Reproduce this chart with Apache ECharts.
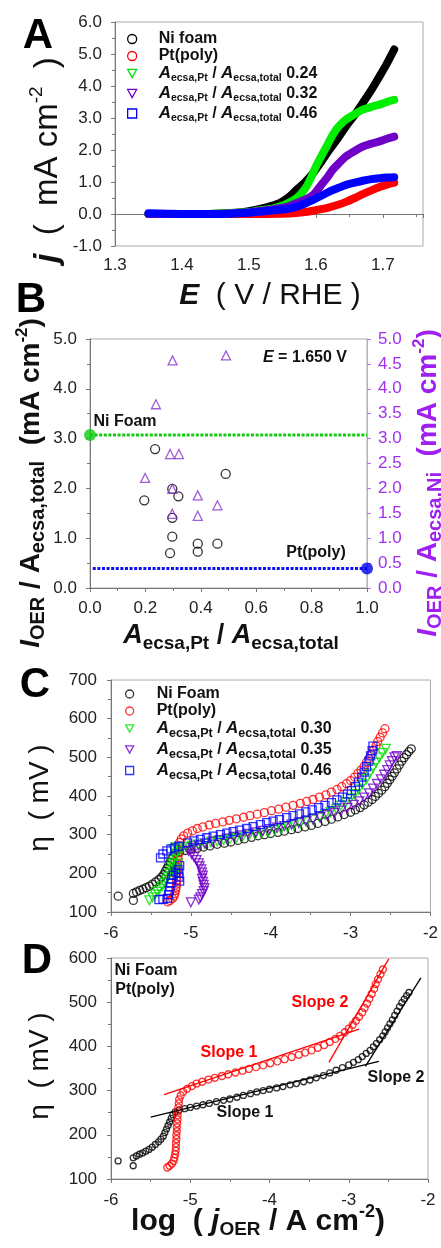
<!DOCTYPE html>
<html>
<head>
<meta charset="utf-8">
<script src="https://cdn.jsdelivr.net/npm/echarts@6/dist/echarts.min.js"></script>
<style>
  html, body { margin: 0; padding: 0; background: #fff; }
  #main { width: 441px; height: 1248px; }
</style>
</head>
<body>
<div id="main"></div>
<script>
// ---- panel A : j vs E (mA cm-2 vs V/RHE)
const aNiFoam = [[1.35,0],[1.4,0],[1.45,0.01],[1.48,0.04],[1.5,0.09],[1.521,0.18],[1.535,0.26],[1.546,0.34],[1.558,0.5],[1.571,0.75],[1.584,1.0],[1.596,1.28],[1.608,1.63],[1.62,2.0],[1.633,2.37],[1.645,2.74],[1.658,3.1],[1.67,3.47],[1.683,3.88],[1.695,4.3],[1.706,4.7],[1.717,5.14]];
const aPtPoly = [[1.35,0],[1.4,0],[1.45,0],[1.5,0],[1.55,0.01],[1.571,0.03],[1.584,0.06],[1.596,0.1],[1.608,0.15],[1.62,0.21],[1.633,0.29],[1.645,0.38],[1.658,0.5],[1.67,0.62],[1.683,0.74],[1.695,0.84],[1.706,0.92],[1.717,0.98]];
const aRatio024 = [[1.35,0],[1.4,0],[1.45,0.01],[1.5,0.06],[1.521,0.13],[1.535,0.17],[1.546,0.23],[1.558,0.33],[1.571,0.49],[1.579,0.66],[1.586,0.86],[1.593,1.15],[1.6,1.48],[1.608,1.8],[1.616,2.11],[1.623,2.39],[1.63,2.63],[1.638,2.82],[1.645,2.95],[1.658,3.12],[1.67,3.26],[1.683,3.35],[1.695,3.42],[1.706,3.5],[1.717,3.57]];
const aRatio032 = [[1.35,0],[1.4,0],[1.45,0],[1.5,0.05],[1.521,0.1],[1.546,0.18],[1.56,0.25],[1.571,0.34],[1.584,0.45],[1.596,0.6],[1.603,0.77],[1.61,0.96],[1.618,1.17],[1.625,1.38],[1.635,1.6],[1.645,1.8],[1.658,1.97],[1.67,2.11],[1.683,2.2],[1.695,2.27],[1.706,2.35],[1.717,2.42]];
const aRatio046 = [[1.35,0.02],[1.4,0],[1.45,0],[1.5,0.04],[1.521,0.08],[1.546,0.13],[1.56,0.17],[1.571,0.23],[1.584,0.33],[1.596,0.44],[1.608,0.57],[1.62,0.7],[1.633,0.81],[1.645,0.91],[1.658,0.98],[1.67,1.04],[1.683,1.09],[1.695,1.12],[1.706,1.14],[1.717,1.15]];

// ---- panel B : I_OER at E = 1.650 V vs area ratio
const bPerTotal = [[0.235,2.79],[0.196,1.76],[0.297,1.99],[0.319,1.84],[0.297,1.41],[0.297,1.03],[0.289,0.70],[0.389,0.89],[0.389,0.73],[0.46,0.89],[0.49,2.29]];
const bPerNi = [[0.298,4.57],[0.491,4.67],[0.238,3.69],[0.289,2.69],[0.321,2.69],[0.199,2.21],[0.297,1.99],[0.389,1.86],[0.46,1.66],[0.297,1.49],[0.389,1.45]];
const bNiFoamRef = [[0,3.07],[1,3.07]];
const bPtPolyRef = [[0.01,0.39],[1,0.39]];
const bNiFoamDot = [[0,3.07]];
const bPtPolyDot = [[1,0.39]];

// ---- panels C and D : Tafel data (log j, eta in mV)
const tNiFoam = [[-5.91,141],[-5.72,130],[-5.72,148],[-5.68,152],[-5.64,156],[-5.6,159],[-5.56,163],[-5.52,167],[-5.48,172],[-5.44,178],[-5.4,184],[-5.37,190],[-5.34,197],[-5.32,205],[-5.3,213],[-5.28,221],[-5.26,229],[-5.24,237],[-5.22,245],[-5.19,252],[-5.14,256],[-5.07,259],[-5.0,262],[-4.92,265],[-4.84,268],[-4.76,271],[-4.67,275],[-4.58,278],[-4.5,281],[-4.41,285],[-4.33,289],[-4.24,293],[-4.16,297],[-4.08,300],[-4.0,303],[-3.91,306],[-3.83,309],[-3.74,313],[-3.66,316],[-3.57,320],[-3.49,324],[-3.41,329],[-3.32,334],[-3.24,340],[-3.16,346],[-3.08,352],[-3.0,358],[-2.94,364],[-2.88,370],[-2.83,377],[-2.78,384],[-2.73,391],[-2.69,399],[-2.65,407],[-2.61,415],[-2.57,424],[-2.54,433],[-2.51,442],[-2.48,451],[-2.45,460],[-2.42,470],[-2.39,480],[-2.36,490],[-2.33,499],[-2.3,507],[-2.27,515],[-2.24,522]];
const tPtPoly = [[-5.29,126],[-5.26,130],[-5.23,135],[-5.21,141],[-5.2,148],[-5.19,156],[-5.185,164],[-5.18,172],[-5.18,181],[-5.175,190],[-5.175,199],[-5.17,208],[-5.17,217],[-5.165,226],[-5.16,235],[-5.16,244],[-5.155,253],[-5.15,262],[-5.145,271],[-5.14,280],[-5.12,289],[-5.09,297],[-5.04,304],[-4.98,310],[-4.92,316],[-4.85,320],[-4.77,325],[-4.69,329],[-4.6,333],[-4.52,337],[-4.43,341],[-4.34,345],[-4.26,349],[-4.17,353],[-4.08,357],[-3.99,362],[-3.9,366],[-3.81,371],[-3.72,376],[-3.63,381],[-3.55,386],[-3.47,391],[-3.39,397],[-3.31,403],[-3.24,410],[-3.17,417],[-3.11,424],[-3.05,432],[-3.0,440],[-2.95,449],[-2.91,458],[-2.87,467],[-2.83,477],[-2.8,487],[-2.77,497],[-2.74,508],[-2.71,519],[-2.68,530],[-2.66,541],[-2.63,552],[-2.6,563],[-2.57,574]];
const tRatio030 = [[-5.52,130],[-5.48,138],[-5.45,145],[-5.42,152],[-5.39,160],[-5.36,167],[-5.33,175],[-5.31,183],[-5.29,191],[-5.27,199],[-5.25,208],[-5.24,216],[-5.23,225],[-5.22,234],[-5.2,243],[-5.18,251],[-5.2,195],[-5.18,210],[-5.16,225],[-5.22,262],[-5.19,268],[-5.15,258],[-5.11,264],[-5.06,268],[-4.99,271],[-4.91,274],[-4.83,277],[-4.75,280],[-4.67,283],[-4.59,286],[-4.51,289],[-4.43,292],[-4.35,295],[-4.27,298],[-4.19,301],[-4.11,304],[-4.03,307],[-3.95,311],[-3.87,315],[-3.79,319],[-3.71,324],[-3.63,329],[-3.55,334],[-3.47,339],[-3.39,345],[-3.32,351],[-3.25,358],[-3.18,366],[-3.12,375],[-3.06,384],[-3.0,394],[-2.95,405],[-2.9,417],[-2.85,430],[-2.8,444],[-2.76,458],[-2.72,472],[-2.68,486],[-2.64,499],[-2.6,511],[-2.56,522]];
const tRatio035 = [[-5.0,125],[-4.99,250],[-4.96,242],[-4.93,234],[-4.9,226],[-4.89,218],[-4.87,210],[-4.86,202],[-4.85,194],[-4.86,186],[-4.85,178],[-4.84,170],[-4.83,162],[-4.84,154],[-4.86,146],[-4.88,138],[-4.9,132],[-5.03,258],[-4.98,266],[-4.9,272],[-4.82,277],[-4.73,282],[-4.64,286],[-4.55,290],[-4.46,294],[-4.37,298],[-4.28,302],[-4.19,306],[-4.1,310],[-4.01,314],[-3.92,318],[-3.83,322],[-3.74,326],[-3.65,331],[-3.56,335],[-3.47,340],[-3.38,345],[-3.29,350],[-3.2,356],[-3.12,362],[-3.04,369],[-2.96,377],[-2.89,386],[-2.83,396],[-2.77,407],[-2.72,419],[-2.67,431],[-2.62,443],[-2.58,455],[-2.54,467],[-2.51,479],[-2.48,490],[-2.45,500],[-2.42,503]];
const tRatio046 = [[-5.4,132],[-5.35,133],[-5.29,135],[-5.28,145],[-5.27,155],[-5.26,165],[-5.25,175],[-5.24,185],[-5.22,195],[-5.19,203],[-5.16,210],[-5.14,220],[-5.15,190],[-5.14,180],[-5.15,200],[-5.38,240],[-5.35,250],[-5.3,258],[-5.25,263],[-5.2,266],[-5.15,270],[-5.04,279],[-4.96,284],[-4.88,288],[-4.8,292],[-4.72,296],[-4.63,300],[-4.55,304],[-4.47,308],[-4.39,312],[-4.3,316],[-4.22,321],[-4.13,326],[-4.05,331],[-3.97,335],[-3.89,339],[-3.8,344],[-3.72,349],[-3.64,354],[-3.56,359],[-3.48,364],[-3.4,370],[-3.32,376],[-3.24,383],[-3.17,390],[-3.1,397],[-3.04,405],[-2.99,414],[-2.94,424],[-2.9,436],[-2.86,449],[-2.83,462],[-2.8,476],[-2.77,490],[-2.75,504],[-2.73,517],[-2.72,529]];

// Tafel fit lines in D
const niSlope1 = [[-5.5,240],[-2.62,366]];
const niSlope2 = [[-2.79,355],[-2.09,555]];
const ptSlope1 = [[-5.33,291],[-2.87,439]];
const ptSlope2 = [[-3.25,364],[-2.495,598]];

const FONT = "'Liberation Sans', Arial, sans-serif";
const AX = '#777';
const PURPLE = '#6e00c8';
const TRI_DOWN = 'path://M0,0L10,0L5,9Z';
const TRI_UP = 'path://M5,0L10,9L0,9Z';

const chart = echarts.init(document.getElementById('main'));

// rich token helper (both graphic "fill" and label "color")
function tok(size, o) {
  return Object.assign({ fontSize: size, fontFamily: FONT, fontWeight: 'bold', fill: '#111', color: '#111' }, o || {});
}

function valAxis(o, label) {
  return Object.assign({
    type: 'value',
    axisLine: { show: true, lineStyle: { color: AX } },
    axisTick: { show: true, length: 4, lineStyle: { color: AX } },
    minorTick: { show: true, splitNumber: 2, length: 3, lineStyle: { color: AX } },
    splitLine: { show: false },
    axisLabel: Object.assign({ color: '#222', fontSize: 17, fontFamily: FONT, margin: 12 }, label || {})
  }, o);
}
const fix1 = v => v.toFixed(1);

// legend text builders
function legRich(main, sub, ai) {
  return {
    p: tok(main, { lineHeight: 17 }),
    m: tok(main),
    ai: tok(ai, { fontStyle: 'italic' }),
    sb: tok(sub, { padding: [10, 0, 0, 0] })
  };
}
function ratioLabel(v) {
  return '{ai|A}{sb|ecsa,Pt}{m| / }{ai|A}{sb|ecsa,total}{m| ' + v + '}';
}
const legendLabels = {
  aNi: '{p|Ni foam}', aPt: '{p|Pt(poly)}',
  a24: ratioLabel('0.24'), a32: ratioLabel('0.32'), a46: ratioLabel('0.46'),
  cNi: '{p|Ni Foam}', cPt: '{p|Pt(poly)}',
  c30: ratioLabel('0.30'), c35: ratioLabel('0.35'), c46: ratioLabel('0.46')
};
function legItem(name, icon, color) {
  return { name, icon, itemStyle: { color: 'rgba(0,0,0,0)', borderColor: color, borderWidth: 1.3 } };
}

function openScatter(name, data, symbol, color, size, xi, yi) {
  return {
    name, type: 'scatter', xAxisIndex: xi, yAxisIndex: yi, data, symbol, symbolSize: size,
    itemStyle: { color: 'rgba(0,0,0,0)', borderColor: color, borderWidth: 1.3 },
    emphasis: { disabled: true }
  };
}
function band(name, data, color) {
  return {
    name, type: 'line', xAxisIndex: 0, yAxisIndex: 0, data, symbol: 'none', smooth: 0.3,
    lineStyle: { width: 8, color, cap: 'round', join: 'round' }, itemStyle: { color }
  };
}
function fitLine(name, data, color) {
  return {
    name, type: 'line', xAxisIndex: 3, yAxisIndex: 4, data, symbol: 'none',
    lineStyle: { width: 1.3, color }, z: 3
  };
}

function text(x, y, str, rich, o) {
  return Object.assign({
    type: 'text', x, y, z: 100,
    style: { text: str, rich, fill: '#111', fontFamily: FONT, fontSize: 16, fontWeight: 'bold',
      align: 'center', verticalAlign: 'middle', textAlign: 'center', textVerticalAlign: 'middle' }
  }, o || {});
}
function plain(x, y, str, size, col) {
  return { type: 'text', x, y, z: 100,
    style: { text: str, fontFamily: FONT, fontSize: size, fontWeight: 'bold', fill: col,
      align: 'center', verticalAlign: 'middle' } };
}
const ROT = Math.PI / 2;

// axis titles
const aXTitle = { ei: tok(30, { fontStyle: 'italic' }), r: tok(30, { fontWeight: 'normal' }) };
const aYTitle = { ji: tok(33, { fontStyle: 'italic' }), r: tok(33, { fontWeight: 'normal' }),
  sup: tok(19, { fontWeight: 'normal', padding: [0, 0, 22, 0] }) };
const bXTitle = { ai: tok(27, { fontStyle: 'italic' }), m: tok(27), sub: tok(19, { padding: [16, 0, 0, 0] }) };
function bYTitle(col) {
  return {
    ii: tok(28, { fontStyle: 'italic', fill: col, color: col }), m: tok(28, { fill: col, color: col }),
    sub: tok(20, { padding: [14, 0, 0, 0], fill: col, color: col }),
    sup: tok(17, { padding: [0, 0, 18, 0], fill: col, color: col })
  };
}
const etaTitle = { r: tok(28, { fontWeight: 'normal' }) };
const dXTitle = { m: tok(30), ji: tok(30, { fontStyle: 'italic' }), sub: tok(19, { padding: [16, 0, 0, 0] }),
  sup: tok(18, { padding: [0, 0, 20, 0] }) };
const eRich = { ei: tok(16, { fontStyle: 'italic' }), m: tok(16) };

const option = {
  animation: false,
  backgroundColor: '#fff',
  grid: [
    { left: 115, top: 22, width: 308, height: 224, show: true, borderColor: '#aaa', borderWidth: 1 },
    { left: 90, top: 339, width: 277, height: 249, show: true, borderColor: '#aaa', borderWidth: 1 },
    { left: 111, top: 680, width: 322, height: 232, show: true, borderColor: '#aaa', borderWidth: 1 },
    { left: 111, top: 958, width: 317, height: 221, show: true, borderColor: '#aaa', borderWidth: 1 }
  ],
  xAxis: [
    valAxis({ gridIndex: 0, min: 1.3, max: 1.76, interval: 0.1 }, { formatter: fix1, showMaxLabel: false, margin: 11 }),
    valAxis({ gridIndex: 1, min: 0, max: 1, interval: 0.2 }, { formatter: fix1 }),
    valAxis({ gridIndex: 2, min: -6, max: -2, interval: 1 }, { margin: 13 }),
    valAxis({ gridIndex: 3, min: -6, max: -2, interval: 1 }, { margin: 13 })
  ],
  yAxis: [
    valAxis({ gridIndex: 0, min: -1, max: 6, interval: 1 }, { formatter: fix1, margin: 13 }),
    valAxis({ gridIndex: 1, min: 0, max: 5, interval: 1 }, { formatter: fix1, margin: 13 }),
    valAxis({ gridIndex: 1, position: 'right', min: 0, max: 5, interval: 0.5,
      axisLine: { show: true, lineStyle: { color: '#c9a0ff' } },
      axisTick: { show: true, length: 4, lineStyle: { color: '#b070f0' } },
      minorTick: { show: false } }, { formatter: fix1, color: '#a030f0', margin: 11 }),
    valAxis({ gridIndex: 2, min: 100, max: 700, interval: 100 }, { margin: 14 }),
    valAxis({ gridIndex: 3, min: 100, max: 600, interval: 100 }, { margin: 14 })
  ],
  legend: [
    {
      left: 122, top: 26, orient: 'vertical', itemWidth: 9, itemHeight: 9, itemGap: 1,
      selectedMode: false,
      formatter: n => legendLabels[n],
      textStyle: { padding: [0, 0, 0, 17], rich: legRich(16, 10.5, 17) },
      data: [legItem('aNi', 'circle', '#000'), legItem('aPt', 'circle', '#f00'),
        legItem('a24', TRI_DOWN, '#00dd00'), legItem('a32', TRI_DOWN, PURPLE), legItem('a46', 'rect', '#00f')]
    },
    {
      left: 120, top: 681, orient: 'vertical', itemWidth: 8, itemHeight: 8, itemGap: 1,
      selectedMode: false,
      formatter: n => legendLabels[n],
      textStyle: { padding: [0, 0, 0, 18], rich: legRich(16, 12.5, 17) },
      data: [legItem('cNi', 'circle', '#000'), legItem('cPt', 'circle', '#f00'),
        legItem('c30', TRI_DOWN, '#00dd00'), legItem('c35', TRI_DOWN, PURPLE), legItem('c46', 'rect', '#00f')]
    }
  ],
  series: [
    // A
    band('aNi', aNiFoam, '#000'),
    band('aPt', aPtPoly, '#ff0000'),
    band('a24', aRatio024, '#00ee00'),
    band('a32', aRatio032, PURPLE),
    band('a46', aRatio046, '#0000ff'),
    // B
    { name: 'bNiRef', type: 'line', xAxisIndex: 1, yAxisIndex: 1, data: bNiFoamRef, symbol: 'none',
      lineStyle: { color: '#11cc11', width: 3, type: [3, 1.6] } },
    { name: 'bPtRef', type: 'line', xAxisIndex: 1, yAxisIndex: 1, data: bPtPolyRef, symbol: 'none',
      lineStyle: { color: '#1010ee', width: 3, type: [3, 1.6] } },
    { name: 'bNiDot', type: 'scatter', xAxisIndex: 1, yAxisIndex: 1, data: bNiFoamDot, symbolSize: 12,
      clip: false, itemStyle: { color: '#11cc11' }, z: 4 },
    { name: 'bPtDot', type: 'scatter', xAxisIndex: 1, yAxisIndex: 1, data: bPtPolyDot, symbolSize: 12,
      clip: false, itemStyle: { color: '#0000ee' }, z: 4 },
    openScatter('bTotal', bPerTotal, 'circle', '#000', 9, 1, 1),
    openScatter('bNi', bPerNi, TRI_UP, '#8833cc', 9, 1, 2),
    // C
    openScatter('cNi', tNiFoam, 'circle', '#000', 8, 2, 3),
    openScatter('cPt', tPtPoly, 'circle', '#f00', 8, 2, 3),
    openScatter('c30', tRatio030, TRI_DOWN, '#00dd00', 9, 2, 3),
    openScatter('c35', tRatio035, TRI_DOWN, PURPLE, 9, 2, 3),
    openScatter('c46', tRatio046, 'rect', '#0000ff', 8, 2, 3),
    // D
    openScatter('dNi', tNiFoam, 'circle', '#000', 6, 3, 4),
    openScatter('dPt', tPtPoly, 'circle', '#f00', 7, 3, 4),
    fitLine('dNiS1', niSlope1, '#000'),
    fitLine('dNiS2', niSlope2, '#000'),
    fitLine('dPtS1', ptSlope1, '#f00'),
    fitLine('dPtS2', ptSlope2, '#f00')
  ],
  graphic: [
    // panel letters
    plain(38, 36, 'A', 42, '#000'),
    plain(31, 300, 'B', 42, '#000'),
    plain(35, 685, 'C', 42, '#000'),
    plain(37, 961, 'D', 42, '#000'),
    // A titles
    text(270, 296, '{ei|E}{r|  ( V / RHE )}', aXTitle),
    text(48, 160, '{ji|j}{r|  (  mA cm}{sup|-2}{r|  )}', aYTitle, { rotation: ROT }),
    // B titles
    text(231, 636, '{ai|A}{sub|ecsa,Pt}{m| / }{ai|A}{sub|ecsa,total}', bXTitle),
    text(31, 483, '{ii|I}{sub|OER}{m| / A}{sub|ecsa,total}{m|  (mA cm}{sup|-2}{m|)}', bYTitle('#111'), { rotation: ROT }),
    text(428, 483, '{ii|I}{sub|OER}{m| / A}{sub|ecsa,Ni}{m|  (mA cm}{sup|-2}{m|)}', bYTitle('#a020f0'), { rotation: ROT }),
    // B notes
    text(125, 422, '{m|Ni Foam}', eRich),
    text(316, 553, '{m|Pt(poly)}', eRich),
    text(305, 358, '{ei|E}{m| = 1.650 V}', eRich),
    // C / D titles
    text(40, 798, '{r|\u03b7  ( mV )}', etaTitle, { rotation: ROT }),
    text(40, 1066, '{r|\u03b7  ( mV )}', etaTitle, { rotation: ROT }),
    text(258, 1222, '{m|log  ( }{ji|j}{sub|OER}{m| / A cm}{sup|-2}{m|)}', dXTitle),
    // D notes
    text(146, 971, '{m|Ni Foam}', eRich),
    text(145, 990, '{m|Pt(poly)}', eRich),
    plain(229, 1053, 'Slope 1', 16, '#f00'),
    plain(320, 1003, 'Slope 2', 16, '#f00'),
    plain(245, 1113, 'Slope 1', 16, '#111'),
    plain(396, 1078, 'Slope 2', 16, '#111')
  ]
};

chart.setOption(option);
</script>
</body>
</html>
